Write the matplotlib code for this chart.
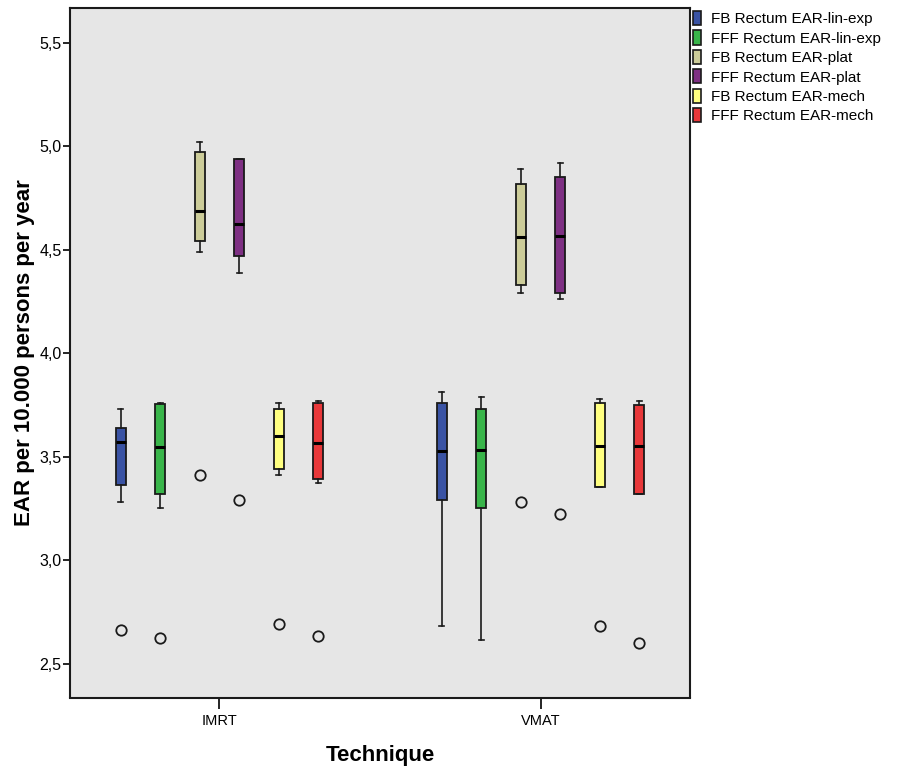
import matplotlib
matplotlib.use("Agg")
import matplotlib.pyplot as plt
from matplotlib.patches import Patch
from matplotlib.ticker import FuncFormatter

plt.rcParams['font.family'] = ['Liberation Sans', 'DejaVu Sans']

groups = ["IMRT", "VMAT"]
series = ["FB Rectum EAR-lin-exp", "FFF Rectum EAR-lin-exp",
          "FB Rectum EAR-plat", "FFF Rectum EAR-plat",
          "FB Rectum EAR-mech", "FFF Rectum EAR-mech"]
colors = ["#3A53A4", "#39B54A", "#CCCC99", "#7E3083", "#FFFF80", "#E8383A"]

# per group: lists over the 6 series
imrt_whislo = [3.283, 3.254, 4.492, 4.390, 3.413, 3.373]
imrt_q1     = [3.363, 3.323, 4.543, 4.472, 3.442, 3.394]
imrt_med    = [3.572, 3.547, 4.687, 4.627, 3.603, 3.569]
imrt_q3     = [3.642, 3.755, 4.972, 4.941, 3.732, 3.762]
imrt_whishi = [3.732, 3.762, 5.022, 4.941, 3.762, 3.772]
imrt_fliers = [[2.664], [2.624], [3.412], [3.292], [2.693], [2.634]]

vmat_whislo = [2.684, 2.614, 4.292, 4.263, 3.354, 3.323]
vmat_q1     = [3.292, 3.255, 4.332, 4.292, 3.354, 3.323]
vmat_med    = [3.529, 3.534, 4.561, 4.566, 3.553, 3.552]
vmat_q3     = [3.762, 3.732, 4.820, 4.851, 3.762, 3.753]
vmat_whishi = [3.812, 3.791, 4.891, 4.920, 3.782, 3.772]
vmat_fliers = [[], [], [3.283], [3.223], [2.684], [2.603]]

yticks = [2.5, 3.0, 3.5, 4.0, 4.5, 5.0, 5.5]

fig = plt.figure(figsize=(9.01, 7.66), dpi=100)
ax = fig.add_axes([70/901, 1-697.5/766, 620/901, 689.5/766])
ax.set_facecolor("#E6E6E6")

spacing = 0.1229
offsets = [(i - 2.5) * spacing for i in range(6)]
group_data = [
    (imrt_whislo, imrt_q1, imrt_med, imrt_q3, imrt_whishi, imrt_fliers),
    (vmat_whislo, vmat_q1, vmat_med, vmat_q3, vmat_whishi, vmat_fliers),
]
for g, (wl, q1, md, q3, wh, fl) in enumerate(group_data):
    for i in range(6):
        stats = [dict(whislo=wl[i], q1=q1[i], med=md[i], q3=q3[i],
                      whishi=wh[i], fliers=fl[i])]
        ax.bxp(stats, positions=[g + 1 + offsets[i]], widths=0.031,
               capwidths=0.016, patch_artist=True, manage_ticks=False,
               boxprops=dict(facecolor=colors[i], edgecolor="#1a1a1a", linewidth=1.3),
               medianprops=dict(color="black", linewidth=2.2),
               whiskerprops=dict(color="#1a1a1a", linewidth=1.2),
               capprops=dict(color="#1a1a1a", linewidth=1.2),
               flierprops=dict(marker="o", markerfacecolor="none",
                               markeredgecolor="#1a1a1a", markersize=7.5,
                               markeredgewidth=1.3))

ax.set_xlim(0.535, 2.465)
ax.set_ylim(2.338, 5.669)
ax.set_xticks([1, 2])
ax.set_xticklabels(groups, fontsize=10.5)
ax.set_yticks(yticks)
ax.yaxis.set_major_formatter(FuncFormatter(lambda v, p: f"{v:.1f}".replace(".", ",")))
ax.tick_params(axis="y", direction="out", length=5, width=1.2, labelsize=11.5, pad=1)
ax.tick_params(axis="x", direction="out", length=8, width=1.2, pad=4)
for s in ax.spines.values():
    s.set_linewidth(1.5)
    s.set_color("#1a1a1a")

ax.set_ylabel("EAR per 10.000 persons per year", fontsize=16, fontweight="bold", labelpad=3)
ax.set_xlabel("Technique", fontsize=16, fontweight="bold", labelpad=12)

handles = [Patch(facecolor=c, edgecolor="#1a1a1a", linewidth=1.2) for c in colors]
fig.legend(handles, series, loc="upper left", bbox_to_anchor=(693/901, 1-11/766),
           frameon=False, fontsize=11, handlelength=0.55, handleheight=1.05,
           handletextpad=0.6, labelspacing=0.27, borderpad=0, borderaxespad=0)

fig.savefig("out.png", dpi=100)
